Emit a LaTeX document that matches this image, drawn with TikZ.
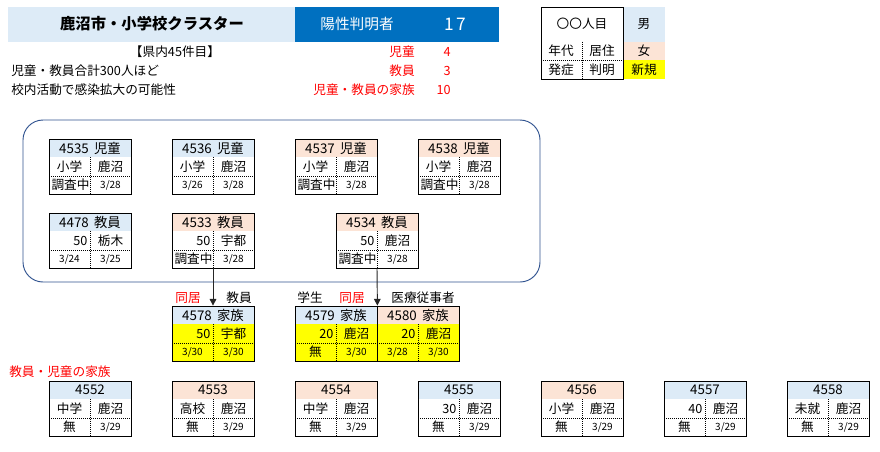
\documentclass[tikz,border=0pt]{standalone}
\usepackage{fontspec}
\setmainfont{Noto Sans CJK JP}
\usepackage{xcolor}
\usetikzlibrary{arrows.meta}

\definecolor{hdrblue}{HTML}{DDEBF7}
\definecolor{hdrpink}{HTML}{FCE4D6}
\definecolor{newyel}{HTML}{FFFF00}
\definecolor{titleblue}{HTML}{0070C0}
\definecolor{framecol}{HTML}{2F528F}
\definecolor{redtxt}{HTML}{FF0000}

\newcommand{\dt}[1]{{\fontsize{7.5}{8}\selectfont #1}}
\newcommand{\hd}[2]{#1\hspace{4pt}#2}
% one patient card: name, pos, header fill, header, row fill, cells
\newcommand{\card}[9]{%
  \begin{scope}[shift={#2}]
    \fill[#3] (0,0) rectangle (82,18);
    \fill[#5] (0,18) rectangle (82,55);
    \draw[cellsep] (0,37) -- (82,37);
    \draw[cellsep] (41,18) -- (41,55);
    \node[hdrtxt] (#1-h) at (41,9) {#4};
    \node[celltxt] (#1-a) at (20.5,27.5) {#6};
    \node[celltxt] (#1-b) at (61.5,27.5) {#7};
    \node[celltxt] (#1-c) at (20.5,46) {#8};
    \node[celltxt] (#1-d) at (61.5,46) {#9};
    \node[cardbox] (#1) at (41,27.5) {};
  \end{scope}}

\begin{document}
\begin{tikzpicture}[x=0.75pt,y=-0.75pt,
  cardbox/.style={draw,line width=0.6pt,minimum width=61.5pt,minimum height=41.25pt,inner sep=0pt},
  cellsep/.style={line width=0.5pt,dash pattern=on 0.6pt off 0.9pt},
  hdrtxt/.style={inner sep=0pt,font=\fontsize{10}{11}\selectfont},
  celltxt/.style={inner sep=0pt,text width=27pt,align=center,font=\fontsize{9.5}{10}\selectfont},
  txt/.style={inner sep=0pt,font=\fontsize{9.5}{10}\selectfont},
  redlbl/.style={txt,text=redtxt},
  link/.style={-{Triangle[length=5pt,width=5pt]},line width=0.7pt,black!85}]
\useasboundingbox (0,0) rectangle (880,451);

% header
\fill[hdrblue] (8,7) rectangle (295,41.7);
\fill[titleblue] (295,7) rectangle (499,41.7);
\node[inner sep=0pt,font=\fontsize{11.5}{13}\selectfont\bfseries] (title) at (152,24) {鹿沼市・小学校クラスター};
\node[inner sep=0pt,text=white,font=\fontsize{11}{13}\selectfont] (poslbl) at (357,24) {陽性判明者};
\node[inner sep=0pt,text=white,font=\fontsize{13}{15}\selectfont] (posnum) at (455,24) {1\hspace{2pt}7};
\node[txt] (nth) at (175,52) {【県内45件目】};
\node[txt,anchor=west] (note1) at (11,71) {児童・教員合計300人ほど};
\node[txt,anchor=west] (note2) at (11,89.5) {校内活動で感染拡大の可能性};
\node[redlbl,anchor=east] (k1) at (415,52) {児童};
\node[redlbl,anchor=east] (k2) at (415,71) {教員};
\node[redlbl,anchor=east] (k3) at (415,89.5) {児童・教員の家族};
\node[redlbl,anchor=east] (n1) at (451,52) {4};
\node[redlbl,anchor=east] (n2) at (451,71) {3};
\node[redlbl,anchor=east] (n3) at (451,89.5) {10};

% legend
\fill[hdrblue] (623,7) rectangle (665,41.7);
\fill[hdrpink] (623,41.7) rectangle (665,60);
\fill[newyel] (623,60) rectangle (665,79);
\draw[cellsep] (541,60) -- (623,60);
\draw[cellsep] (582,41.7) -- (582,79);
\draw[line width=0.6pt] (541,7) rectangle (623,79);
\node[txt] (lg0) at (582,24) {〇〇人目};
\node[txt] (lg1) at (561,51) {年代};
\node[txt] (lg2) at (602,51) {居住};
\node[txt] (lg3) at (561,70) {発症};
\node[txt] (lg4) at (602,70) {判明};
\node[txt] (lgm) at (644,24) {男};
\node[txt] (lgf) at (644,51) {女};
\node[txt] (lgn) at (644,70) {新規};

% school group
\draw[framecol,line width=0.7pt,rounded corners=15pt] (23,120) rectangle (540,282);
\card{c4535}{(49,139)}{hdrblue}{\hd{4535}{児童}}{white}{小学}{鹿沼}{調査中}{\dt{3/28}}
\card{c4536}{(172,139)}{hdrblue}{\hd{4536}{児童}}{white}{小学}{鹿沼}{\dt{3/26}}{\dt{3/28}}
\card{c4537}{(295,139)}{hdrpink}{\hd{4537}{児童}}{white}{小学}{鹿沼}{調査中}{\dt{3/28}}
\card{c4538}{(418,139)}{hdrpink}{\hd{4538}{児童}}{white}{小学}{鹿沼}{調査中}{\dt{3/28}}
\card{c4478}{(49,213)}{hdrblue}{\hd{4478}{教員}}{white}{\hfill50}{栃木}{\dt{3/24}}{\dt{3/25}}
\card{c4533}{(172,213)}{hdrpink}{\hd{4533}{教員}}{white}{\hfill50}{宇都}{調査中}{\dt{3/28}}
\card{c4534}{(336,213)}{hdrpink}{\hd{4534}{教員}}{white}{\hfill50}{鹿沼}{調査中}{\dt{3/28}}

% families
\node[redlbl] (r1) at (188,298) {同居};
\node[txt] (r2) at (239,298) {教員};
\node[txt] (r3) at (310,298) {学生};
\node[redlbl] (r4) at (352,298) {同居};
\node[txt] (r5) at (423,298) {医療従事者};
\card{c4578}{(172,306)}{hdrblue}{\hd{4578}{家族}}{newyel}{\hfill50}{宇都}{\dt{3/30}}{\dt{3/30}}
\card{c4579}{(295,306)}{hdrblue}{\hd{4579}{家族}}{newyel}{\hfill20}{鹿沼}{無}{\dt{3/30}}
\card{c4580}{(377,306)}{hdrpink}{\hd{4580}{家族}}{newyel}{\hfill20}{鹿沼}{\dt{3/28}}{\dt{3/30}}
\draw[link] (c4533.south) -- (c4578.north);
\draw[link] (c4534.south) -- (c4579.north east);

% family of staff and pupils
\node[redlbl,anchor=west] (fam) at (9,372) {教員・児童の家族};
\card{c4552}{(49,381)}{hdrblue}{4552}{white}{中学}{鹿沼}{無}{\dt{3/29}}
\card{c4553}{(172,381)}{hdrpink}{4553}{white}{高校}{鹿沼}{無}{\dt{3/29}}
\card{c4554}{(295,381)}{hdrpink}{4554}{white}{中学}{鹿沼}{無}{\dt{3/29}}
\card{c4555}{(418,381)}{hdrblue}{4555}{white}{\hfill30}{鹿沼}{無}{\dt{3/29}}
\card{c4556}{(541,381)}{hdrpink}{4556}{white}{小学}{鹿沼}{無}{\dt{3/29}}
\card{c4557}{(664,381)}{hdrblue}{4557}{white}{\hfill40}{鹿沼}{無}{\dt{3/29}}
\card{c4558}{(787,381)}{hdrblue}{4558}{white}{未就}{鹿沼}{無}{\dt{3/29}}
\end{tikzpicture}
\end{document}
